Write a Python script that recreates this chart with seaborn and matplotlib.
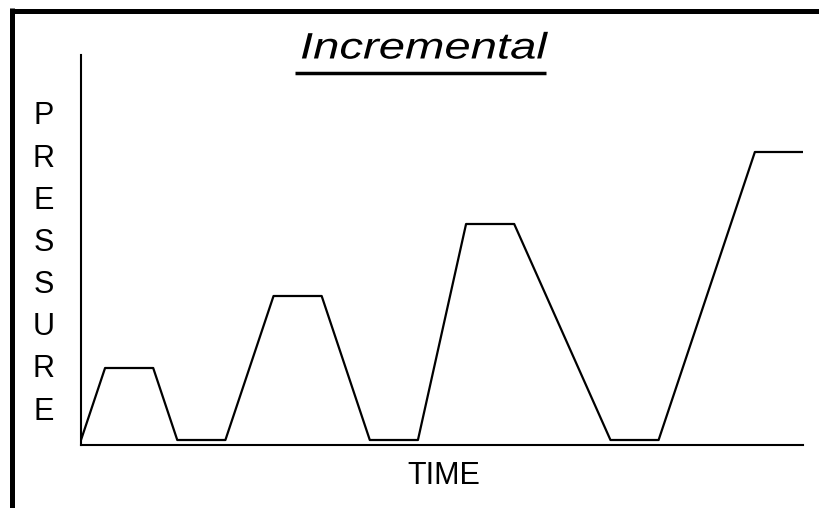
import matplotlib
matplotlib.use("Agg")
import matplotlib.pyplot as plt
from matplotlib.lines import Line2D
from matplotlib.transforms import Affine2D
from matplotlib import patheffects
import seaborn as sns
import pandas as pd

# Data
time = [0, 1, 3, 4, 6, 8, 10, 12, 14, 16, 18, 22, 24, 28, 30]
pressure = [0, 1, 1, 0, 0, 2, 2, 0, 0, 3, 3, 0, 0, 4, 4]
title_text = "Incremental"
xlabel_text = "TIME"
ylabel_text = "PRESSURE"

sns.set_theme(style="white")
plt.rcParams['font.family'] = ['Liberation Sans', 'DejaVu Sans']

df = pd.DataFrame({"time": time, "pressure": pressure})

W, H = 820, 508
fig = plt.figure(figsize=(8.2, 5.08), dpi=100)
ax = fig.add_axes([81 / W, 1 - 445 / H, (803 - 81) / W, (445 - 55) / H])

sns.lineplot(data=df, x="time", y="pressure", ax=ax, color="black",
             linewidth=1.6, estimator=None, sort=False)

ax.set_xlim(0, 30)
ax.set_ylim(-5 / 72, 385 / 72)
ax.set_xticks([])
ax.set_yticks([])
ax.set_xlabel("")
ax.set_ylabel("")
for s in ["top", "right"]:
    ax.spines[s].set_visible(False)
for s in ["left", "bottom"]:
    ax.spines[s].set_color("black")
    ax.spines[s].set_linewidth(1.5)

# x label
fig.text(444 / W, 1 - 476 / H, xlabel_text, ha="center", va="center",
         fontsize=22, color="black")

# stacked y label
fig.text(43.5 / W, 1 - 264 / H, "\n".join(ylabel_text), ha="center", va="center",
         fontsize=22, color="black", linespacing=1.53, multialignment="center")


class HStretch(patheffects.AbstractPathEffect):
    """Draw text horizontally stretched about a centre x (display pixels)."""

    def __init__(self, cx, sx):
        super().__init__()
        self.cx = cx
        self.sx = sx

    def draw_path(self, renderer, gc, tpath, affine, rgbFace=None):
        st = Affine2D().translate(-self.cx, 0).scale(self.sx, 1).translate(self.cx, 0)
        renderer.draw_path(gc, tpath, affine + st, rgbFace)


# title, italic, stretched wide and underlined
cx = 423.5
t = fig.text(cx / W, 1 - 58.5 / H, title_text, ha="center", va="baseline",
             fontsize=26.5, style="italic", color="black")
fig.canvas.draw()
bb = t.get_window_extent(renderer=fig.canvas.get_renderer())
target_w = 247.0
sx = target_w / bb.width
t.set_path_effects([HStretch(cx, sx)])
uy = 1 - 73 / H
fig.add_artist(Line2D([(cx - target_w / 2 - 5) / W, (cx + target_w / 2 - 1) / W], [uy, uy],
                      transform=fig.transFigure, color="black", linewidth=2.5,
                      solid_capstyle="butt"))

# slide frame (left and top thick borders)
fig.add_artist(Line2D([12.5 / W, 12.5 / W], [0, 1 - 8 / H],
                      transform=fig.transFigure, color="black", linewidth=3.6,
                      solid_capstyle="butt"))
fig.add_artist(Line2D([10 / W, 1], [1 - 10.5 / H, 1 - 10.5 / H],
                      transform=fig.transFigure, color="black", linewidth=3.6,
                      solid_capstyle="butt"))

fig.savefig("out.png", dpi=100)
